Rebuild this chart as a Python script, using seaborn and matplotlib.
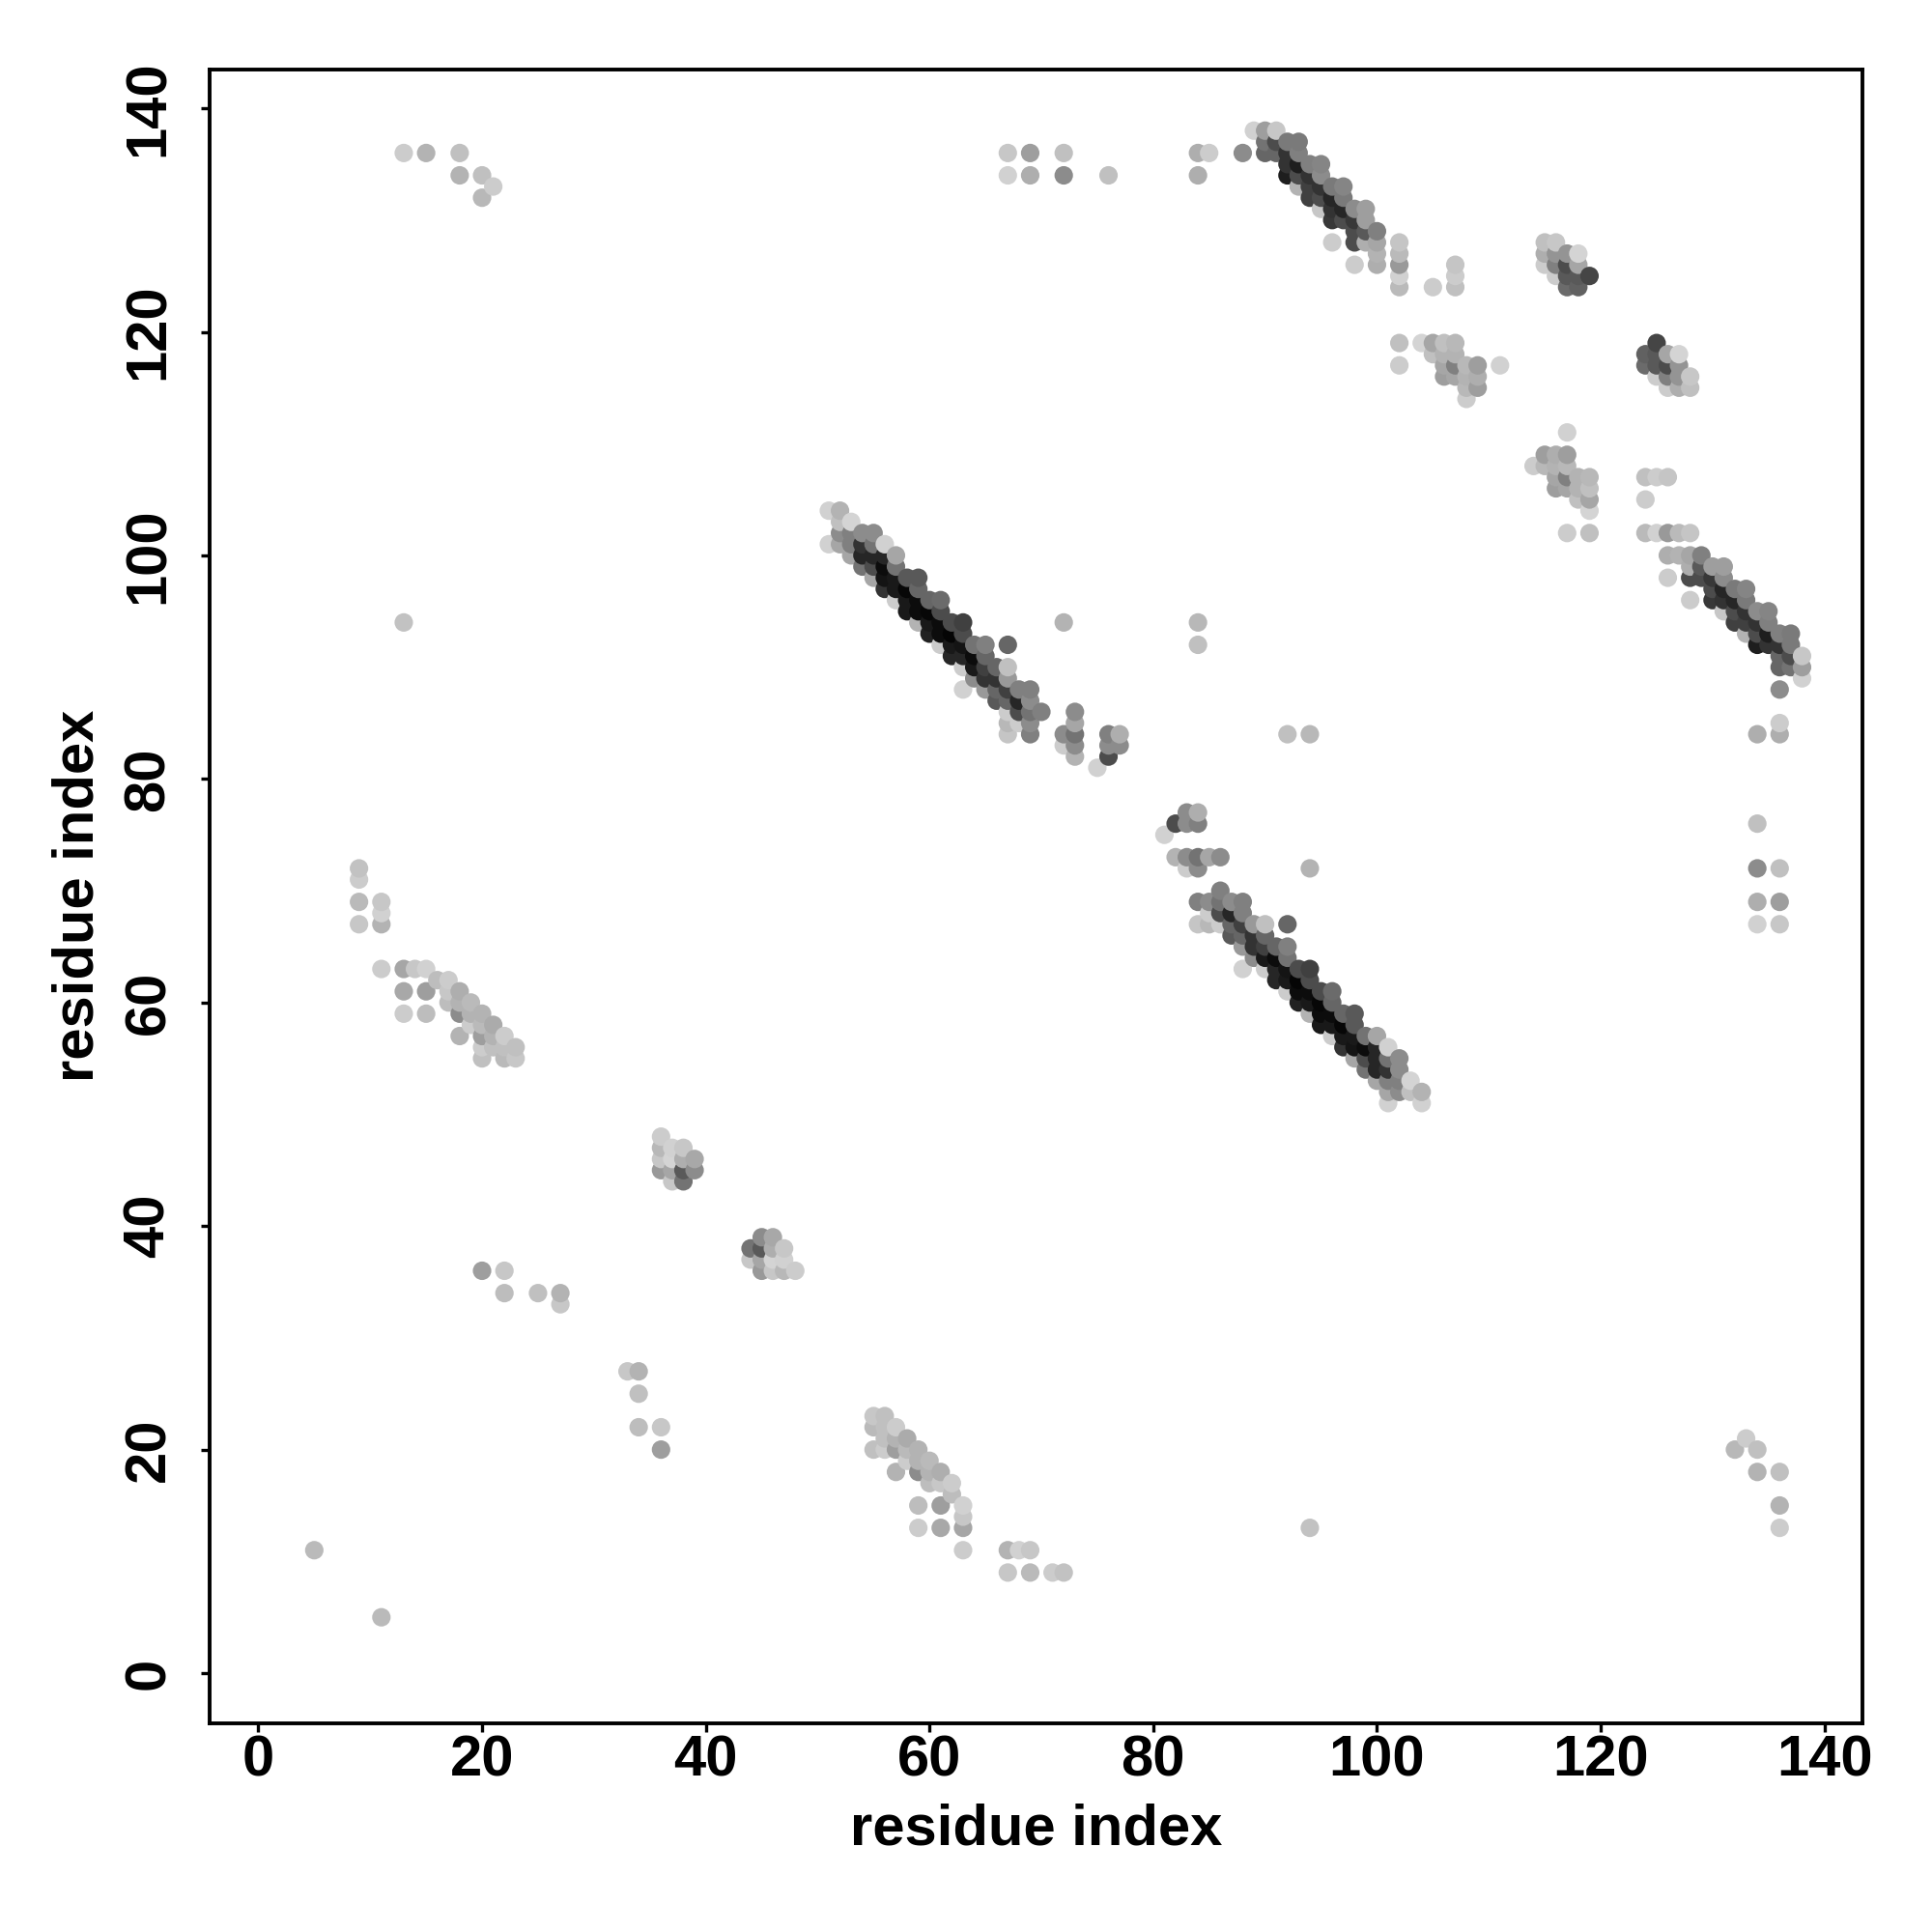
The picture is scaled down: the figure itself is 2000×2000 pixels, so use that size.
"""Residue contact map drawn as a symmetric grey scatter."""
import matplotlib
matplotlib.use("Agg")
import matplotlib.pyplot as plt
import pandas as pd
import seaborn as sns

# long helix pairing, one row per j
helix_i = [51, 52, 52, 53,
           52, 53, 54, 55,
           51, 52, 53, 54, 55, 56,
           53, 54, 55, 56, 57,
           54, 55, 56, 57,
           55, 56, 57, 58, 59,
           56, 57, 58, 59,
           57, 58, 59, 60, 61,
           58, 59, 60, 61,
           59, 60, 61, 62, 63,
           60, 61, 62, 63,
           61, 62, 63, 64, 65, 67,
           62, 63, 64, 65,
           63, 64, 65, 66, 67,
           64, 65, 66, 67,
           63, 65, 66, 67, 68, 69,
           66, 67, 68, 69,
           67, 68, 69, 70,
           67, 68, 69,
           67, 69]
helix_j = [104, 104, 103, 103,
           102, 102, 102, 102,
           101, 101, 101, 101, 101, 101,
           100, 100, 100, 100, 100,
           99, 99, 99, 99,
           98, 98, 98, 98, 98,
           97, 97, 97, 97,
           96, 96, 96, 96, 96,
           95, 95, 95, 95,
           94, 94, 94, 94, 94,
           93, 93, 93, 93,
           92, 92, 92, 92, 92, 92,
           91, 91, 91, 91,
           90, 90, 90, 90, 90,
           89, 89, 89, 89,
           88, 88, 88, 88, 88, 88,
           87, 87, 87, 87,
           86, 86, 86, 86,
           85, 85, 85,
           84, 84]
helix_shade = [.82, .70, .75, .83,
               .55, .50, .55, .55,
               .82, .65, .50, .20, .45, .82,
               .65, .15, .15, .15, .65,
               .45, .30, .05, .45,
               .65, .08, .10, .35, .35,
               .20, .10, .03, .40,
               .80, .10, .05, .40, .42,
               .10, .05, .03, .30,
               .70, .10, .05, .30, .25,
               .13, .05, .02, .30,
               .80, .10, .08, .45, .50, .40,
               .15, .15, .05, .40,
               .80, .10, .25, .40, .75,
               .55, .20, .20, .60,
               .82, .60, .40, .25, .50, .50,
               .35, .40, .15, .55,
               .80, .30, .45, .50,
               .72, .80, .55,
               .77, .50]

# second helix pairing near the top
upper_i = [89, 90, 91,
           90, 91, 92, 93,
           88, 90, 91, 92, 93,
           92, 93, 94, 95,
           92, 93, 94, 95,
           93, 94, 95, 96, 97,
           94, 95, 96, 97,
           95, 96, 97, 98, 99,
           96, 97, 98, 99,
           98, 99, 100,
           96, 98, 99, 100,
           100, 98, 100]
upper_j = [138, 138, 138,
           137, 137, 137, 137,
           136, 136, 136, 136, 136,
           135, 135, 135, 135,
           134, 134, 134, 134,
           133, 133, 133, 133, 133,
           132, 132, 132, 132,
           131, 131, 131, 131, 131,
           130, 130, 130, 130,
           129, 129, 129,
           128, 128, 128, 128,
           127, 126, 126]
upper_shade = [.82, .62, .78,
               .45, .30, .48, .48,
               .55, .40, .40, .20, .50,
               .20, .12, .50, .52,
               .12, .30, .20, .55,
               .70, .25, .20, .48, .52,
               .25, .30, .15, .48,
               .78, .20, .15, .55, .62,
               .22, .30, .22, .62,
               .30, .35, .50,
               .80, .30, .68, .65,
               .70, .80, .68]

# clusters around residues 102-119
patch_i = [102, 102, 102, 102, 102, 105, 107, 107, 107,
           102, 104, 105, 106, 107, 105, 106, 107,
           102, 106, 107, 108, 109, 111,
           106, 107, 108, 109, 108, 109, 108,
           115, 116, 115, 116, 117, 118, 115, 116, 117, 118,
           116, 117, 118, 119, 117, 118]
patch_j = [128, 127, 126, 125, 124, 124, 126, 125, 124,
           119, 119, 119, 119, 119, 118, 118, 118,
           117, 117, 117, 117, 117, 117,
           116, 116, 116, 116, 115, 115, 114,
           128, 128, 127, 127, 127, 127, 126, 126, 126, 126,
           125, 125, 125, 125, 124, 124]
patch_shade = [.77, .73, .60, .82, .73, .80, .77, .80, .75,
               .75, .83, .65, .75, .72, .75, .70, .70,
               .80, .65, .50, .72, .62, .82,
               .62, .65, .70, .68, .72, .62, .80,
               .75, .78, .68, .58, .58, .83, .80, .50, .30, .65,
               .80, .35, .35, .27, .42, .38]

# weak strand pairing at low residue numbers
strand_i = [9, 9, 9, 11, 11, 9, 11,
            11, 13, 14, 15, 16, 17,
            13, 15, 17, 18, 17, 18, 19,
            13, 15, 18, 19, 20, 19, 20, 21,
            18, 20, 21, 22, 20, 21, 22, 23, 20, 22, 23]
strand_j = [72, 71, 69, 69, 68, 67, 67,
            63, 63, 63, 63, 62, 62,
            61, 61, 61, 61, 60, 60, 60,
            59, 59, 59, 59, 59, 58, 58, 58,
            57, 57, 57, 57, 56, 56, 56, 56, 55, 55, 55]
strand_shade = [.76, .80, .73, .78, .82, .78, .70,
                .80, .65, .78, .82, .74, .80,
                .66, .62, .78, .68, .74, .70, .73,
                .80, .74, .55, .70, .70, .80, .73, .67,
                .70, .62, .70, .80, .80, .75, .75, .75, .75, .73, .78]

# small cluster at 36-39 / 44-48
knot_i = [36, 36, 37, 38, 36, 37, 38, 39, 36, 37, 38, 39, 37, 38]
knot_j = [48, 47, 47, 47, 46, 46, 46, 46, 45, 45, 45, 45, 44, 44]
knot_shade = [.80, .72, .82, .78, .78, .83, .68, .66, .60, .65, .35, .55, .78, .45]

# near-diagonal spots and isolated contacts
spot_i = [72, 72, 72, 73, 73, 73, 73, 73, 76, 76, 76, 77, 77, 75,
          5, 13, 13, 15, 18, 18, 20, 21, 20,
          20, 22, 22, 25, 27, 27,
          67, 67, 69, 69, 72, 72, 76, 84, 85, 84, 84, 84]
spot_j = [94, 84, 83, 86, 85, 84, 83, 82, 84, 83, 82, 84, 83, 81,
          11, 94, 136, 136, 136, 134, 134, 133, 132,
          36, 36, 34, 34, 34, 33,
          136, 134, 136, 134, 136, 134, 134, 136, 136, 134, 94, 92]
spot_shade = [.70, .55, .80, .55, .65, .45, .55, .70, .50, .55, .30, .68, .55, .82,
              .73, .76, .80, .70, .75, .70, .75, .80, .72,
              .62, .78, .74, .75, .70, .78,
              .78, .82, .62, .68, .75, .55, .75, .68, .80, .68, .72, .75]

tick_values = [0, 20, 40, 60, 80, 100, 120, 140]

res_i = helix_i + upper_i + patch_i + strand_i + knot_i + spot_i
res_j = helix_j + upper_j + patch_j + strand_j + knot_j + spot_j
shade = helix_shade + upper_shade + patch_shade + strand_shade + knot_shade + spot_shade

half = pd.DataFrame({"i": res_i, "j": res_j, "shade": shade})
mirror = half.rename(columns={"i": "j", "j": "i"})
contacts = pd.concat([half, mirror]).sort_values(["i", "j"])

sns.set_theme(style="white")
plt.rcParams["font.family"] = ["Liberation Sans", "DejaVu Sans"]
plt.rcParams["font.weight"] = "bold"

fig = plt.figure(figsize=(20, 20), dpi=100)
ax = fig.add_axes([0.1083, 0.108, 0.8557, 0.8562])

sns.scatterplot(data=contacts, x="i", y="j", hue="shade", palette="gray",
                hue_norm=(0, 1), s=190, linewidth=0, legend=False, ax=ax)

ax.set_xlim(-4.39, 143.4)
ax.set_ylim(-4.49, 143.5)
ax.set_xticks(tick_values)
ax.set_yticks(tick_values)
ax.tick_params(axis="both", direction="out", length=6.5, width=2.4, color="black",
               bottom=True, left=True, labelsize=43, labelcolor="black")
ax.tick_params(axis="x", pad=1.5)
ax.tick_params(axis="y", pad=18.5)
for label in ax.get_yticklabels():
    label.set_rotation(90)
    label.set_va("center")

for spine in ax.spines.values():
    spine.set_linewidth(2.8)
    spine.set_color("black")

ax.set_xlabel("residue index", fontsize=43, fontweight="bold", color="black", va="center")
ax.set_ylabel("residue index", fontsize=43, fontweight="bold", color="black", va="center")
ax.xaxis.set_label_coords(0.5, -0.0645)
ax.yaxis.set_label_coords(-0.079, 0.5)

fig.savefig("out.png", dpi=100)
plt.close(fig)
